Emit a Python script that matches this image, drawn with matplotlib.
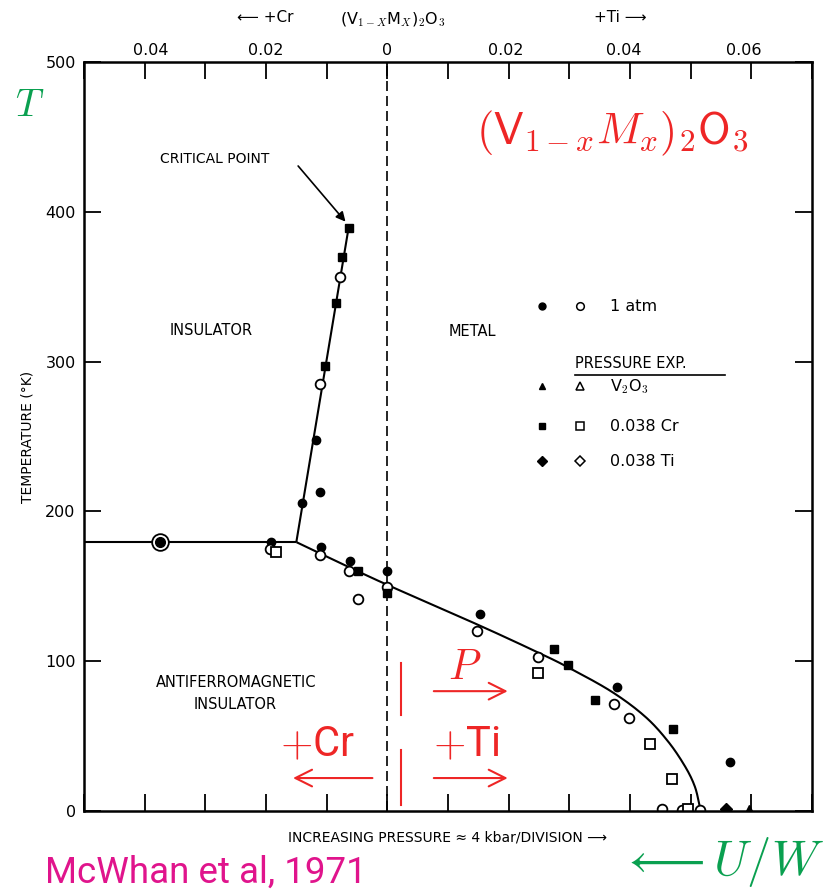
import numpy as np
import matplotlib
matplotlib.use("Agg")
import matplotlib.pyplot as plt
from matplotlib.lines import Line2D

plt.rcParams['font.family'] = ['DejaVu Sans']
plt.rcParams['mathtext.fontset'] = 'cm'
NARROW = ['Roboto', 'DejaVu Sans']

# Phase boundaries (x in pressure divisions, 0 = pure V2O3; T in K)
afi_x = [-5.0, -1.5]
afi_T = [179.5, 179.5]
crit_x = [-1.5, -0.64]
crit_T = [179.5, 389.0]
mi_x = [-1.5, -0.15, 1.50, 2.49, 2.98, 3.70, 4.25, 4.63, 4.91, 5.07, 5.15, 5.17]
mi_T = [179.5, 153.7, 124.2, 105.7, 95.9, 79.6, 63.0, 46.3, 29.6, 16.2, 2.9, 0.0]

# Measured transition points
atm_closed_x = [-1.18, -1.11, -1.40, -1.09, -1.92, -0.61, 0.0, 1.52, 3.79, 5.65]
atm_closed_T = [247.7, 213.2, 205.4, 176.4, 179.4, 167.1, 160.4, 131.3, 83.0, 32.5]
atm_open_x = [-0.78, -1.11, -1.93, -1.11, -0.63, -0.49, -0.01, 1.48, 2.48, 3.74, 3.98, 4.53, 4.85, 5.16]
atm_open_T = [356.7, 284.8, 174.9, 170.9, 160.2, 141.7, 149.3, 120.2, 102.6, 71.4, 61.9, 1.5, 1.0, 0.5]
ringed_x = [-3.75]
ringed_T = [179.4]
cr_closed_x = [-0.64, -0.75, -0.85, -1.02, -0.49, 0.0, 2.74, 2.98, 3.42, 4.71]
cr_closed_T = [389.0, 369.6, 338.9, 297.3, 160.4, 145.7, 107.9, 97.5, 74.1, 54.7]
cr_open_x = [-1.83, 2.48, 4.33, 4.70, 4.95]
cr_open_T = [173.1, 91.9, 44.7, 21.4, 1.5]
ti_closed_x = [5.59]
ti_closed_T = [1.5]
v2o3_closed_x = [5.96]
v2o3_closed_T = [1.5]

# Axis ticks
temp_ticks = [0, 100, 200, 300, 400, 500]
div_ticks = list(range(-5, 8))
conc_pos = [-3.9, -2.0, 0.0, 1.95, 3.9, 5.88]
conc_labels = ['0.04', '0.02', '0', '0.02', '0.04', '0.06']


def smooth_path(xs, ys, n=20):
    """Catmull-Rom path through the given boundary points."""
    p = np.column_stack([xs, ys]).astype(float)
    p = np.vstack([2 * p[0] - p[1], p, 2 * p[-1] - p[-2]])
    out = []
    t = np.linspace(0, 1, n, endpoint=False)[:, None]
    for i in range(1, len(p) - 2):
        p0, p1, p2, p3 = p[i - 1], p[i], p[i + 1], p[i + 2]
        seg = 0.5 * ((2 * p1) + (-p0 + p2) * t + (2 * p0 - 5 * p1 + 4 * p2 - p3) * t ** 2
                     + (-p0 + 3 * p1 - 3 * p2 + p3) * t ** 3)
        out.append(seg)
    out.append(p[-2][None, :])
    out = np.vstack(out)
    return out[:, 0], out[:, 1]


fig = plt.figure(figsize=(8.32, 8.90), dpi=100)
ax = fig.add_axes([84/832, 1-811/890, 728/832, 749/890])
ax.set_xlim(-5, 7)
ax.set_ylim(0, 500)

for s in ax.spines.values():
    s.set_linewidth(1.8)

ax.set_yticks(temp_ticks)
ax.set_yticklabels([str(t) for t in temp_ticks], fontsize=11.5)
ax.set_xticks(div_ticks)
ax.set_xticklabels([])
ax.tick_params(axis='both', direction='in', length=12, width=1.3,
               top=True, right=True, pad=6)

# top composition labels
for p, lab in zip(conc_pos, conc_labels):
    ax.text(p, 503, lab, ha='center', va='bottom', fontsize=11.5)

ax.set_ylabel('TEMPERATURE (°K)', fontsize=10, labelpad=8)
ax.set_xlabel('INCREASING PRESSURE \u2248 4 kbar/DIVISION \u27f6', fontsize=10, labelpad=8)

# dashed V2O3 line
ax.axvline(0, color='black', lw=1.2, ls=(0, (6, 3)))

# phase boundaries
lk = dict(color='black', lw=1.5, solid_capstyle='butt')
ax.plot(afi_x, afi_T, **lk)
ax.plot(crit_x, crit_T, **lk)
sx, sy = smooth_path(mi_x, mi_T)
ax.plot(sx, sy, **lk)

ms = 6
ax.plot(atm_closed_x, atm_closed_T, 'o', color='black', ms=ms)
ax.plot(atm_open_x, atm_open_T, 'o', mfc='white', mec='black', mew=1.3, ms=ms + 1)
ax.plot(ringed_x, ringed_T, 'o', mfc='white', mec='black', mew=1.3, ms=12)
ax.plot(ringed_x, ringed_T, 'o', color='black', ms=7)
ax.plot(cr_closed_x, cr_closed_T, 's', color='black', ms=ms)
ax.plot(cr_open_x, cr_open_T, 's', mfc='white', mec='black', mew=1.3, ms=ms + 1)
ax.plot(ti_closed_x, ti_closed_T, 'D', color='black', ms=ms)
ax.plot(v2o3_closed_x, v2o3_closed_T, '^', color='black', ms=ms)

# region labels
ax.text(-2.85, 435, 'CRITICAL POINT', ha='center', va='center', fontsize=10)
ax.annotate('', xy=(-0.66, 392), xytext=(-1.5, 432),
            arrowprops=dict(arrowstyle='-|>', color='black', lw=1.2, mutation_scale=14))
ax.text(-2.9, 321, 'INSULATOR', ha='center', va='center', fontsize=10.5)
ax.text(1.4, 320, 'METAL', ha='center', va='center', fontsize=10.5)
ax.text(-2.5, 86, 'ANTIFERROMAGNETIC', ha='center', va='center', fontsize=10.5)
ax.text(-2.5, 71, 'INSULATOR', ha='center', va='center', fontsize=10.5)

# key
T = ax.transAxes
rows = [(0.674, 'o', 'o', '1 atm'), (0.567, '^', '^', r'V$_2$O$_3$'),
        (0.514, 's', 's', '0.038 Cr'), (0.467, 'D', 'D', '0.038 Ti')]
for y, m1, m2, lab in rows:
    ax.plot([0.629], [y], m1, color='black', ms=5, transform=T, clip_on=False)
    ax.plot([0.681], [y], m2, mfc='white', mec='black', mew=1.1, ms=5.5,
            transform=T, clip_on=False)
    ax.text(0.7225, y, lab, transform=T, ha='left', va='center', fontsize=11.5)
ax.text(0.675, 0.598, 'PRESSURE EXP.', transform=T, ha='left', va='center', fontsize=10.5)
ax.add_line(Line2D([0.675, 0.88], [0.582, 0.582], color='black', lw=1.2, transform=T))

# headings above the plot
fig.text(265/832, 1-18/890, '\u27f5 +Cr', ha='center', va='center', fontsize=11)
fig.text(393/832, 1-20/890, r'(V$_{1-X}$M$_X$)$_2$O$_3$', ha='center', va='center', fontsize=11.5)
fig.text(620/832, 1-18/890, '+Ti \u27f6', ha='center', va='center', fontsize=11)

# colored overlay annotations
red = '#EE2626'
green = '#0AA050'
mag = '#E0148C'
fig.text(612/832, 1-133/890, r'$(\mathsf{V}_{1-x}M_x)_2\mathsf{O}_3$', color=red,
         ha='center', va='center', fontsize=32)
fig.text(30/832, 1-105/890, r'$T$', color=green, ha='center', va='center', fontsize=28)
fig.text(722/832, 1-862/890, r'$\longleftarrow U/W$', color=green,
         ha='center', va='center', fontsize=35)
fig.text(45/832, 1-883/890, 'McWhan et al, 1971', color=mag, ha='left', va='baseline',
         fontsize=26.5, family=NARROW)

ax.text(-1.15, 44, r'$+$Cr', color=red, ha='center', va='center', fontsize=30, family=NARROW)
ax.text(1.3, 44, r'$+$Ti', color=red, ha='center', va='center', fontsize=30, family=NARROW)
ax.text(1.27, 96, r'$P$', color=red, ha='center', va='center', fontsize=30)
ak = dict(arrowstyle='->', color=red, lw=1.5, mutation_scale=30)
ax.annotate('', xy=(2.03, 80), xytext=(0.72, 80), arrowprops=ak)
ax.annotate('', xy=(2.03, 22), xytext=(0.72, 22), arrowprops=ak)
ax.annotate('', xy=(-1.6, 22), xytext=(-0.2, 22), arrowprops=ak)
ax.plot([0.23, 0.23], [64, 99], color=red, lw=1.5)
ax.plot([0.23, 0.23], [4, 41], color=red, lw=1.5)

fig.savefig('out.png', dpi=100)
